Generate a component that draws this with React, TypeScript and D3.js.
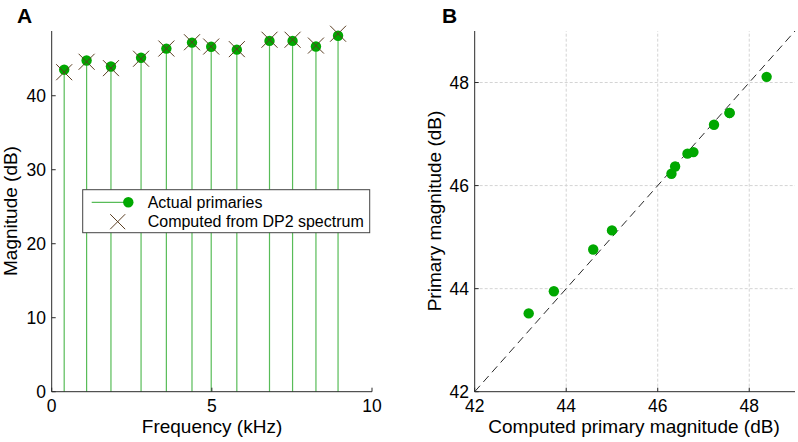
import React from "react";
import * as d3 from "d3";

const freqs = [0.39, 1.09, 1.85, 2.79, 3.58, 4.38, 4.98, 5.78, 6.8, 7.52, 8.25, 8.94];
const actual = [43.52, 44.76, 43.95, 45.13, 46.37, 47.18, 46.62, 46.23, 47.41, 47.41, 46.65, 48.11];
const computed = [43.18, 44.59, 43.73, 45.0, 46.38, 47.23, 46.65, 46.3, 47.57, 47.57, 46.78, 48.38];
const ticksAx = [0, 5, 10];
const ticksAy = [0, 10, 20, 30, 40];
const ticksB = [42, 44, 46, 48];
const gridB = [44, 46, 48];
const legendLabels = ["Actual primaries", "Computed from DP2 spectrum"];

const FONT = "'Liberation Sans', Arial, Helvetica, sans-serif";
const GREEN = "#00a800";
const STEM = "#58bc58";
const XCOL = "#5a3e22";
const AX = "#2a2a2a";

export default function App() {
  const xA = d3.scaleLinear().domain([0, 10]).range([51.7, 372]);
  const yA = d3.scaleLinear().domain([0, 48.75]).range([391.7, 31]);
  const xB = d3.scaleLinear().domain([42, 49]).range([474.7, 795]);
  const yB = d3.scaleLinear().domain([42, 49]).range([391.7, 31]);
  const xs = 8;
  const cross = (cx: number, cy: number, s: number, key: any) => (
    <g key={key} stroke={XCOL} strokeWidth={1}>
      <line x1={cx - s} y1={cy - s} x2={cx + s} y2={cy + s} />
      <line x1={cx - s} y1={cy + s} x2={cx + s} y2={cy - s} />
    </g>
  );
  const pts = actual.map((a, i) => ({ a, c: computed[i] }));
  return (
    <svg width={798} height={442} style={{ position: "absolute", left: 0, top: 0, background: "#fff" }} fontFamily={FONT}>
      <rect x={0} y={0} width={798} height={442} fill="#fff" />
      {/* Panel A */}
      <text x={17} y={23} fontSize={21} fontWeight="bold" fill="#000">A</text>
      {freqs.map((f, i) => (
        <line key={"s" + i} x1={xA(f)} x2={xA(f)} y1={yA(0)} y2={yA(actual[i])} stroke={STEM} strokeWidth={1.2} />
      ))}
      {freqs.map((f, i) => (
        <circle key={"c" + i} cx={xA(f)} cy={yA(actual[i])} r={5.2} fill={GREEN} />
      ))}
      {freqs.map((f, i) => cross(xA(f), yA(computed[i]), xs, "x" + i))}
      <line x1={xA(0)} x2={xA(0)} y1={yA(0)} y2={yA(48.75)} stroke={AX} />
      <line x1={xA(0)} x2={xA(10)} y1={yA(0)} y2={yA(0)} stroke={AX} />
      {ticksAy.map((t) => (
        <g key={"ay" + t}>
          <line x1={xA(0)} x2={xA(0) + 4} y1={yA(t)} y2={yA(t)} stroke={AX} />
          <text x={46} y={yA(t)} dy="0.36em" textAnchor="end" fontSize={17.5}>{t}</text>
        </g>
      ))}
      {ticksAx.map((t) => (
        <g key={"ax" + t}>
          <line x1={xA(t)} x2={xA(t)} y1={yA(0)} y2={yA(0) - 4} stroke={AX} />
          <text x={xA(t)} y={412} textAnchor="middle" fontSize={17.5}>{t}</text>
        </g>
      ))}
      <text x={212} y={433} textAnchor="middle" fontSize={19}>Frequency (kHz)</text>
      <text transform={`translate(17,211) rotate(-90)`} textAnchor="middle" fontSize={19}>Magnitude (dB)</text>
      {/* Legend */}
      <rect x={82.7} y={189.7} width={287} height={43} fill="#fff" stroke="#444" strokeWidth={1} />
      <line x1={91.7} x2={128.3} y1={202.3} y2={202.3} stroke={STEM} strokeWidth={1.2} />
      <circle cx={128.3} cy={202.3} r={5.2} fill={GREEN} />
      {cross(117.7, 221.7, 7.5, "lx")}
      <text x={147.7} y={202.3} dy="0.36em" fontSize={16}>{legendLabels[0]}</text>
      <text x={147.7} y={221.7} dy="0.36em" fontSize={16}>{legendLabels[1]}</text>

      {/* Panel B */}
      <text x={442} y={23} fontSize={21} fontWeight="bold" fill="#000">B</text>
      {gridB.map((g) => (
        <g key={"g" + g} stroke="#d4d4d4" strokeDasharray="3,2" strokeWidth={1}>
          <line x1={xB(g)} x2={xB(g)} y1={yB(42)} y2={yB(49)} />
          <line x1={xB(42)} x2={xB(49)} y1={yB(g)} y2={yB(g)} />
        </g>
      ))}
      <line x1={xB(42)} y1={yB(42)} x2={xB(49)} y2={yB(49)} stroke="#111" strokeWidth={0.9} strokeDasharray="8,5" />
      {pts.map((p, i) => (
        <circle key={"b" + i} cx={xB(p.c)} cy={yB(p.a)} r={5.2} fill={GREEN} />
      ))}
      <line x1={xB(42)} x2={xB(42)} y1={yB(42)} y2={yB(49)} stroke={AX} />
      <line x1={xB(42)} x2={xB(49)} y1={yB(42)} y2={yB(42)} stroke={AX} />
      {ticksB.map((t) => (
        <g key={"by" + t}>
          <line x1={xB(42)} x2={xB(42) + 4} y1={yB(t)} y2={yB(t)} stroke={AX} />
          <text x={469} y={yB(t)} dy="0.36em" textAnchor="end" fontSize={17.5}>{t}</text>
          <line x1={xB(t)} x2={xB(t)} y1={yB(42)} y2={yB(42) - 4} stroke={AX} />
          <text x={xB(t)} y={412} textAnchor="middle" fontSize={17.5}>{t}</text>
        </g>
      ))}
      <text x={634} y={433} textAnchor="middle" fontSize={19}>Computed primary magnitude (dB)</text>
      <text transform={`translate(441,211) rotate(-90)`} textAnchor="middle" fontSize={19}>Primary magnitude (dB)</text>
    </svg>
  );
}
